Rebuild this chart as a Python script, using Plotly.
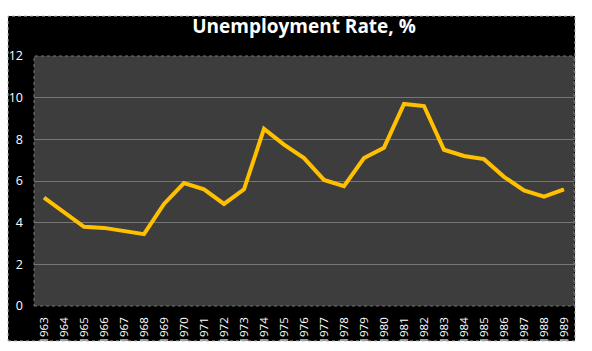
import plotly.graph_objects as go

years = [str(y) for y in range(1963, 1990)]
rates = [5.2, 4.5, 3.8, 3.75, 3.6, 3.45, 4.9, 5.9, 5.6, 4.9, 5.6, 8.5, 7.75, 7.1,
         6.05, 5.75, 7.1, 7.6, 9.7, 9.6, 7.5, 7.2, 7.05, 6.2, 5.55, 5.25, 5.6]
y_ticks = [0, 2, 4, 6, 8, 10, 12]

W, H = 592, 351
L, R, T, B = 34, 18, 56, 45
pw, ph = W - L - R, H - T - B

def px_x(p):
    return (p - L) / pw

def px_y(p):
    return (H - B - p) / ph

fig = go.Figure()
fig.add_trace(go.Scatter(
    x=years, y=rates, mode="lines",
    line=dict(color="#FFC000", width=4),
    hoverinfo="x+y",
))

shapes = [
    # black chart area
    dict(type="rect", xref="paper", yref="paper", layer="below",
         x0=px_x(8), x1=px_x(575), y0=px_y(341), y1=px_y(16),
         fillcolor="black", line=dict(width=0)),
    # plot area background
    dict(type="rect", xref="paper", yref="paper", layer="below",
         x0=0, x1=1, y0=0, y1=1,
         fillcolor="#3d3d3d", line=dict(color="#777777", width=1, dash="dot")),
    # white strip clipping the year labels at the chart's bottom edge
    dict(type="rect", xref="paper", yref="paper", layer="above",
         x0=px_x(0), x1=px_x(W), y0=px_y(H + 5), y1=px_y(341),
         fillcolor="white", line=dict(width=0)),
    # dotted frame of the chart area
    dict(type="rect", xref="paper", yref="paper", layer="above",
         x0=px_x(8), x1=px_x(575), y0=px_y(341), y1=px_y(16),
         fillcolor="rgba(0,0,0,0)", line=dict(color="#bbbbbb", width=1, dash="dot")),
]

fig.update_layout(
    width=W, height=H,
    margin=dict(l=L, r=R, t=T, b=B, pad=0, autoexpand=False),
    paper_bgcolor="white",
    plot_bgcolor="rgba(0,0,0,0)",
    showlegend=False,
    shapes=shapes,
    title=dict(text="<b>Unemployment Rate, %</b>", x=0.5, xref="paper",
               xanchor="center", y=1 - 26 / H, yanchor="middle",
               font=dict(family="Open Sans", size=19, color="white")),
    font=dict(family="Open Sans", color="white"),
    xaxis=dict(type="category", range=[-0.5, 26.5], showgrid=False,
               tickangle=-90, ticks="", ticklabelstandoff=8, automargin=False,
               tickfont=dict(size=11.5, color="white"),
               showline=False, zeroline=False, fixedrange=True),
    yaxis=dict(range=[0, 12], tickvals=y_ticks, showgrid=True,
               gridcolor="#767676", gridwidth=1, ticks="", automargin=False,
               ticklabelstandoff=10,
               tickfont=dict(size=12.5, color="white"),
               showline=False, zeroline=False, fixedrange=True),
)

fig.write_html("out.html")
